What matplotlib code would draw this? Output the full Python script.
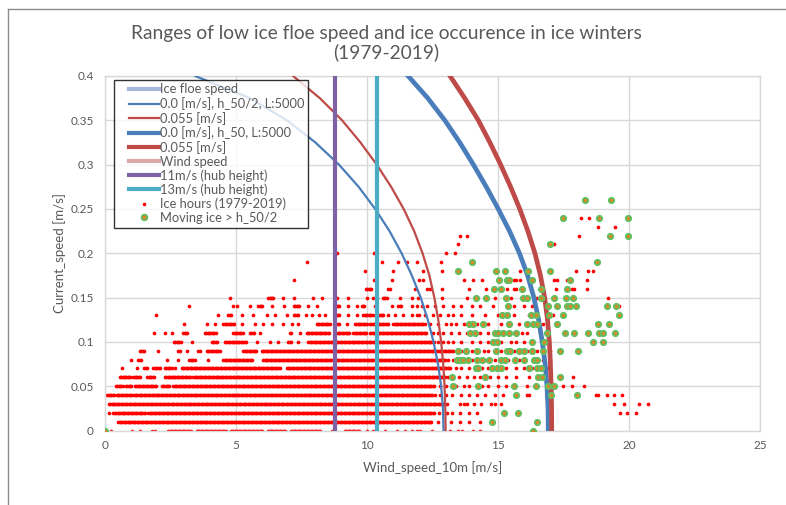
import matplotlib
matplotlib.use('Agg')
import matplotlib.pyplot as plt
import numpy as np
from matplotlib.lines import Line2D
from matplotlib.legend_handler import HandlerLine2D

plt.rcParams['font.family'] = ['Lato', 'DejaVu Sans']

# ---------------- text ----------------
title_line1 = "Ranges of low ice floe speed and ice occurence in ice winters"
title_line2 = "(1979-2019)"
x_label = "Wind_speed_10m [m/s]"
y_label = "Current_speed [m/s]"
x_ticks = [0, 5, 10, 15, 20, 25]
y_ticks = [0, 0.05, 0.1, 0.15, 0.2, 0.25, 0.3, 0.35, 0.4]
y_tick_labels = ['0', '0.05', '0.1', '0.15', '0.2', '0.25', '0.3', '0.35', '0.4']

# ---------------- curves ----------------
curve_y = [0.40, 0.375, 0.35, 0.325, 0.30, 0.275, 0.25, 0.225, 0.20, 0.175, 0.15, 0.125, 0.10, 0.075, 0.05, 0.025, 0.0]
blue_thin_x = [3.44, 5.53, 6.94, 8.03, 8.93, 9.68, 10.31, 10.86, 11.32, 11.71, 12.05, 12.32, 12.54, 12.71, 12.83, 12.9, 12.92]
red_thin_x = [7.18, 8.2, 9.05, 9.75, 10.37, 10.92, 11.4, 11.8, 12.12, 12.38, 12.57, 12.72, 12.83, 12.91, 12.96, 12.99, 13.0]
blue_thick_x = [11.57, 12.32, 12.97, 13.54, 14.06, 14.55, 15.01, 15.44, 15.82, 16.13, 16.37, 16.55, 16.69, 16.8, 16.87, 16.91, 16.92]
red_thick_x = [13.17, 13.73, 14.25, 14.69, 15.1, 15.48, 15.83, 16.14, 16.41, 16.62, 16.78, 16.89, 16.96, 17.0, 17.03, 17.045, 17.05]
hub11_x = [8.78, 8.78]
hub11_y = [0.0, 0.4]
hub13_x = [10.39, 10.39]
hub13_y = [0.0, 0.4]

# ---------------- ice hours: wind speeds per current-speed row ----------------
# tuples = runs of densely packed points, floats = single points
ice_00 = [0.22, 1.02, 1.34, 1.78, 1.91, (2.42, 3.3), (3.5, 4.6), (4.8, 6.04), (6.23, 6.9), (7.1, 8.21), 8.65, 8.78,
          (9.16, 9.73), 9.99, 10.23, 10.69, 11.13, 11.45, 11.71, 11.9, 12.02, 12.47, 13.17, 13.49, 13.61, 14.06, 14.31]
ice_01 = [(0.51, 12.5), 12.7, 13.2, 13.55, 13.9, 14.3]
ice_02 = [0.15, 0.29, (0.38, 1.53), (1.66, 12.6), 12.75, 13.05, 13.25, 13.55, 13.9, 14.2, 19.66, 19.91, 20.27]
ice_03 = [(0.15, 12.9), 13.05, 13.55, 13.7, 13.8, 14.1, 14.35, 14.75, 14.9, 15.1, 19.44, 19.81, 20.4, 20.72]
ice_04 = [(0.09, 0.38), (0.45, 1.02), (1.08, 12.5), 12.6, 12.8, 13.0, 13.25, 13.6, 13.9, 14.2, 14.5, 14.9, 15.2, 16.1,
          16.2, 18.74, 18.83, 19.15, 19.44, 19.72]
ice_05 = [(0.42, 0.7), (0.8, 1.02), (1.15, 1.97), (2.16, 2.48), (2.61, 12.6), 12.8, 13.0, 13.4, 13.7, 13.9, 14.4, 14.6,
          15.0, 15.3, 16.1, 17.47, 17.82, 18.3]
ice_06 = [(0.57, 0.99), (1.08, 1.34), (1.62, 1.91), (2.29, 3.24), (3.37, 13.0), 13.1, 13.5, 13.8, 14.1, 14.3, 14.7, 15.0,
          15.3, 15.7, 16.2, 17.88]
ice_07 = [0.64, 1.21, (1.5, 1.62), (1.85, 2.1), (2.29, 2.54), 2.67, (2.93, 6.68), (6.93, 13.2), 13.4, 13.6, 13.9, 14.4,
          14.6, 15.3, 15.7, 16.0, 16.3, 16.9]
ice_08 = [0.99, (1.27, 1.4), 2.35, 2.8, (3.22, 3.44), 3.95, (4.52, 5.66), (6.04, 13.0), 13.1, 13.3, 14.0, 14.5, 14.9,
          15.4, 15.8, 16.7, 17.0]
ice_09 = [(1.34, 1.53), 2.04, (2.8, 2.89), 3.12, (3.56, 3.63), (3.88, 4.39), (5.28, 5.79), (5.98, 13.3), 13.6, 14.0,
          14.45, 14.6, 15.1, 15.6, 16.1, 16.5, 17.0]
ice_10 = [(2.64, 2.93), 3.31, (4.07, 4.29), (4.58, 5.4), 5.8, 6.3, 6.62, (7.0, 7.12), 7.38, (7.76, 12.6), 12.7, 12.9,
          13.1, 13.3, 13.6, 14.0, 14.3, 14.6, 15.1, 15.5, 15.7, 16.0]
ice_11 = [1.88, 2.29, 2.54, (2.99, 3.14), (3.82, 4.26), (4.9, 5.28), (5.53, 5.72), 5.92, (7.06, 7.12), 7.44, (7.7, 8.59),
          (8.78, 9.35), (9.48, 9.99), (10.11, 12.3), 12.5, 12.7, 12.9, 13.2, 13.5, 13.8, 14.3, 14.6, 15.0, 15.9, 16.1, 16.6]
ice_12 = [3.03, 3.91, 4.2, (4.52, 4.93), 5.22, 5.72, 6.04, 6.36, 6.81, 7.12, 7.38, (8.08, 8.59), (8.78, 8.97), 9.22,
          (9.54, 9.99), (10.11, 10.81), (11.0, 12.2), 12.4, 12.7, 13.0, 13.2, 13.4, 13.7, 14.2, 14.6, 15.1, 15.8, 16.7]
ice_13 = [1.93, 4.33, (4.71, 4.83), 5.22, 5.66, 6.17, 6.49, 6.93, (7.21, 7.38), 7.67, 7.89, 8.18, 8.4, (8.84, 8.94), 9.29,
          9.6, (9.86, 10.24), (10.37, 10.62), 10.81, 11.07, 11.39, 11.71, 11.9, 12.0, 12.2, 12.5, 12.8, 13.1, 13.3,
          13.6, 14.0, 14.5, 15.0, 15.6, 16.2, 17.1]
ice_14 = [3.19, 4.87, 5.02, 5.53, (5.85, 6.04), 6.36, 6.84, (7.21, 7.44), 7.76, 8.08, (8.84, 8.94), 9.29, 9.6,
          (9.8, 9.92), 10.31, 10.94, (11.2, 11.32), 11.71, 11.9, 12.1, 12.3, 12.6, 12.9, 13.3, 13.6, 14.0, 14.3, 14.8,
          15.6, 16.0, 16.3, 17.3, 19.6]
ice_15 = [4.77, (6.23, 6.43), 6.78, 7.21, 7.93, 8.27, 8.84, 9.26, 9.99, 10.24, 10.37, (10.6, 10.75), 11.26, 11.71,
          11.95, 12.85, 13.8, 14.9, 15.5, 15.9, 16.4, 16.5, 19.21]
ice_16 = [(9.96, 10.18), 10.79, 10.88, 11.85, 12.3, 12.4, 12.85, 13.9, 14.55, 15.35, 15.6, 15.7, 17.2, 17.82, 17.9, 18.39]
ice_17 = [7.21, 10.27, 10.94, 12.0, 12.15, 13.7, 14.05, 14.4, 15.6, 15.7, 15.85, 17.15, 17.25, 17.65, 18.41]
ice_18 = [9.92, 11.0, 12.15, 12.85, 15.84, 17.97, 18.45, 18.64]
ice_19 = [7.72, 10.59, 11.17, 11.52, 11.9, 12.82]
ice_20 = [8.84, 10.27, 13.0, 13.36]
ice_21 = [13.46, 17.13]
ice_22 = [13.55, 13.81, 18.1]
ice_23 = [18.81, 19.47]
ice_24 = [18.17, 18.47]
ice_rows = [ice_00, ice_01, ice_02, ice_03, ice_04, ice_05, ice_06, ice_07, ice_08, ice_09, ice_10, ice_11, ice_12,
            ice_13, ice_14, ice_15, ice_16, ice_17, ice_18, ice_19, ice_20, ice_21, ice_22, ice_23, ice_24]
row_step = 0.01   # current speed resolution of rows
run_step = 0.05   # wind speed spacing inside dense runs

# ---------------- moving ice (green) ----------------
mov_00 = [0.0, 16.35]
mov_01 = [14.77, 16.48]
mov_02 = [15.24, 15.75]
mov_03 = []
mov_04 = [15.69, 17.01, 18.0]
mov_05 = [13.27, 14.25, 15.62, 16.45, 16.92, 17.13]
mov_06 = [13.23, 14.5, 16.54, 16.69, 17.37]
mov_07 = [14.15, 14.25, 14.76, 14.95, 15.1, 16.18, 16.48, 16.64]
mov_08 = [13.42, 13.55, 13.68, 13.87, 14.19, 14.38, 14.66, 15.1, 15.27, 15.65, 15.99, 16.39, 16.49]
mov_09 = [13.46, 13.78, 14.21, 14.92, 15.33, 15.46, 15.81, 15.99, 16.28, 16.71, 17.37, 18.07]
mov_10 = [14.82, 14.95, 16.31, 16.77, 18.64, 18.99]
mov_11 = [13.93, 14.12, 14.88, 15.0, 15.2, 15.42, 15.69, 16.86, 17.56, 17.9, 18.45, 18.87, 19.02, 19.47]
mov_12 = [13.9, 14.06, 14.44, 15.43, 16.1, 16.35, 16.48, 17.24, 18.81, 19.25]
mov_13 = [15.16, 15.33, 16.25, 16.45, 16.96, 17.47, 19.6]
mov_14 = [15.39, 16.92, 17.24, 17.65, 17.73, 17.98, 19.15, 19.51]
mov_15 = [14.16, 14.54, 15.29, 15.94, 16.1, 16.64, 17.15, 17.6, 17.88]
mov_16 = [14.84, 15.1, 15.9, 16.64, 17.62]
mov_17 = [15.05, 15.33, 15.42, 16.31, 17.75]
mov_18 = [13.49, 14.92, 15.27, 16.16, 16.99]
mov_19 = [14.02, 18.77]
mov_20 = []
mov_21 = [17.0]
mov_22 = [19.27, 19.98]
mov_23 = []
mov_24 = [17.49, 18.86, 19.95]
mov_25 = []
mov_26 = [18.32, 19.31]
mov_rows = [mov_00, mov_01, mov_02, mov_03, mov_04, mov_05, mov_06, mov_07, mov_08, mov_09, mov_10, mov_11, mov_12,
            mov_13, mov_14, mov_15, mov_16, mov_17, mov_18, mov_19, mov_20, mov_21, mov_22, mov_23, mov_24, mov_25,
            mov_26]

# ---------------- colours ----------------
c_blue = '#4A7EBB'
c_red = '#BE4B48'
c_light_blue = '#A3B8DB'
c_light_red = '#DCA9A7'
c_purple = '#7F62A5'
c_cyan = '#4BACC6'
c_text = '#595959'
c_grid = '#D9D9D9'
c_dot = '#FF0000'
c_mov_face = '#D8872A'
c_mov_edge = '#5EC060'


def expand(row):
    xs = []
    for item in row:
        if isinstance(item, tuple):
            xs.extend(np.arange(item[0], item[1] + 1e-9, run_step).tolist())
        else:
            xs.append(item)
    return xs


ice_x, ice_y = [], []
for k, row in enumerate(ice_rows):
    xs = expand(row)
    ice_x.extend(xs)
    ice_y.extend([k * row_step] * len(xs))

mov_x, mov_y = [], []
for k, row in enumerate(mov_rows):
    mov_x.extend(row)
    mov_y.extend([k * row_step] * len(row))


class ShiftedLineHandler(HandlerLine2D):
    """Line handle inset from the left edge of the legend, as in the source chart."""
    def __init__(self, shift=0.9, **kw):
        super().__init__(**kw)
        self._shift = shift

    def create_artists(self, legend, orig_handle, xdescent, ydescent, width, height, fontsize, trans):
        s = self._shift * fontsize
        return super().create_artists(legend, orig_handle, xdescent - s, ydescent, width - s, height,
                                      fontsize, trans)


fig = plt.figure(figsize=(7.86, 5.05), dpi=100)
ax = fig.add_axes([105 / 786, 1 - 430.5 / 505, 655 / 786, 354.5 / 505])

ax.scatter(ice_x, ice_y, s=7, marker='o', color=c_dot, linewidths=0, zorder=2)
ax.plot(blue_thin_x, curve_y, color=c_blue, lw=1.6, zorder=3, solid_joinstyle='round')
ax.plot(red_thin_x, curve_y, color=c_red, lw=1.6, zorder=3, solid_joinstyle='round')
ax.plot(blue_thick_x, curve_y, color=c_blue, lw=3.4, zorder=3, solid_joinstyle='round')
ax.plot(red_thick_x, curve_y, color=c_red, lw=3.4, zorder=3, solid_joinstyle='round')
ax.plot(hub11_x, hub11_y, color=c_purple, lw=3.0, zorder=3)
ax.plot(hub13_x, hub13_y, color=c_cyan, lw=3.0, zorder=3)
ax.scatter(mov_x, mov_y, s=15, marker='o', facecolor=c_mov_face, edgecolor=c_mov_edge, linewidths=1.3, zorder=4)

ax.set_xlim(0, 25)
ax.set_ylim(0, 0.4)
ax.set_xticks(x_ticks)
ax.set_xticklabels([str(t) for t in x_ticks])
ax.set_yticks(y_ticks)
ax.set_yticklabels(y_tick_labels)
ax.grid(True, color=c_grid, lw=1.0)
ax.set_axisbelow(True)
for sp in ax.spines.values():
    sp.set_color(c_grid)
    sp.set_linewidth(1.0)
ax.tick_params(length=0, colors=c_text, labelsize=8.5)
ax.tick_params(axis='y', pad=8)
ax.tick_params(axis='x', pad=7)
ax.set_xlabel(x_label, color=c_text, fontsize=9.5, labelpad=7)
ax.set_ylabel(y_label, color=c_text, fontsize=9.5, labelpad=3)

handles = [
    Line2D([], [], color=c_light_blue, lw=3.0),
    Line2D([], [], color=c_blue, lw=1.6),
    Line2D([], [], color=c_red, lw=1.6),
    Line2D([], [], color=c_blue, lw=3.0),
    Line2D([], [], color=c_red, lw=3.0),
    Line2D([], [], color=c_light_red, lw=3.0),
    Line2D([], [], color=c_purple, lw=3.0),
    Line2D([], [], color=c_cyan, lw=3.0),
    Line2D([], [], color=c_dot, marker='o', ls='none', markersize=2.6, markeredgewidth=0),
    Line2D([], [], marker='o', ls='none', markersize=4.2, markerfacecolor=c_mov_face, markeredgecolor=c_mov_edge,
           markeredgewidth=1.2),
]
labels = ["Ice floe speed", "0.0 [m/s], h_50/2, L:5000", "0.055 [m/s]", "0.0 [m/s], h_50, L:5000", "0.055 [m/s]",
          "Wind speed", "11m/s (hub height)", "13m/s (hub height)", "Ice hours (1979-2019)", "Moving ice > h_50/2"]
leg = ax.legend(handles, labels, loc='upper left', bbox_to_anchor=(0.013, 0.99), fontsize=9.3, frameon=True,
                fancybox=False, edgecolor='black', labelspacing=0.13, handlelength=3.2, handletextpad=0.1,
                borderpad=0.3, borderaxespad=0.0, labelcolor=c_text,
                handler_map={Line2D: ShiftedLineHandler(shift=0.9)})
leg.get_frame().set_facecolor((1, 1, 1, 0.85))
leg.get_frame().set_linewidth(1.0)
leg.set_zorder(5)

fig.text(386 / 786, 1 - 33 / 505, title_line1, ha='center', va='center', fontsize=13.8, color=c_text)
fig.text(386 / 786, 1 - 52 / 505, title_line2, ha='center', va='center', fontsize=13.8, color=c_text)

fig.add_artist(Line2D([8 / 786, 1.0], [1 - 9 / 505, 1 - 9 / 505], transform=fig.transFigure, color='#8C8C8C', lw=1.0))
fig.add_artist(Line2D([8 / 786, 8 / 786], [0.0, 1 - 9 / 505], transform=fig.transFigure, color='#8C8C8C', lw=1.0))

fig.savefig('out.png', dpi=100)
